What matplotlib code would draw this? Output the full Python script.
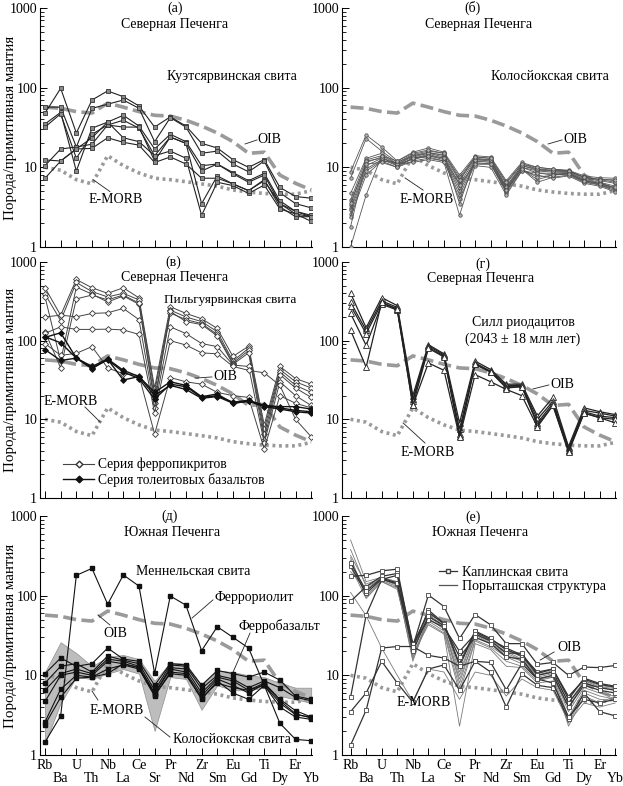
import matplotlib
matplotlib.use("Agg")
import matplotlib.pyplot as plt
from matplotlib.lines import Line2D
from matplotlib.ticker import LogLocator, NullFormatter, FixedLocator

plt.rcParams['font.family'] = ['Liberation Serif', 'DejaVu Serif']

ELEMENTS = ['Rb', 'Ba', 'U', 'Th', 'Nb', 'La', 'Ce', 'Sr', 'Pr', 'Nd',
            'Zr', 'Sm', 'Eu', 'Gd', 'Ti', 'Dy', 'Er', 'Yb']

OIB = [57, 55, 50, 48, 64, 57, 50, 45, 44, 39, 33, 27, 21, 15, 15.5, 8.0, 6.3, 5.2]
EMORB = [10, 9.2, 7.0, 6.2, 14, 10.5, 8.5, 7.3, 7.0, 6.6, 6.2, 5.8, 5.2, 4.9, 4.7, 4.6, 4.6, 5.1]

# (а) Куэтсярвинская свита
kuets = [
    [48, 98, 27, 70, 91, 77, 59, 32, 43, 33, 20, 17.5, 12.5, 10, 12.5, 5.6, 4.3, 4.1],
    [57, 57, 18, 55, 62, 70, 55, 21, 42, 32, 15, 16, 11, 8.8, 12, 4.8, 3.5, 3.1],
    [35, 49, 9, 31, 37, 45, 33, 17, 26, 21, 10.5, 11, 8.6, 6.8, 8.4, 3.8, 2.8, 2.5],
    [32, 47, 13, 26, 34, 39, 31, 14, 24, 20, 9, 11, 8.3, 6.5, 8, 3.5, 2.6, 2.4],
    [10.5, 17, 18, 19.5, 34, 32, 32, 12, 24, 20, 3.5, 7.8, 6.2, 5.1, 7, 3.2, 2.4, 2.4],
    [12.4, 12, 17, 23.5, 37, 23.5, 21, 14, 16, 13, 2.5, 6.5, 5.9, 4.7, 6, 3.0, 2.6, 2.1],
    [7.3, 12, 17, 17.3, 23.5, 20.6, 19, 11.5, 13.5, 11, 7.3, 7.3, 6.2, 5.1, 6.8, 3.5, 2.8, 2.4],
]

# (б) Колосйокская свита
kolos = [
    [8.8, 25.5, 18, 12, 15.5, 17.5, 15.5, 8, 14, 13.5, 6.8, 11.5, 10, 9.5, 9.2, 7.8, 7.4, 7.3],
    [7.3, 23, 16, 11.5, 14.5, 16, 15, 7.5, 13.5, 13, 6.2, 11, 9.6, 9.2, 9, 7.5, 7.1, 6.8],
    [4.7, 13, 15, 11, 14, 15.5, 14, 6.8, 13, 12.5, 5.8, 10.5, 9.2, 9, 8.8, 7.2, 6.8, 6.3],
    [3.9, 12.4, 14, 11, 13.5, 15, 13.5, 6.2, 12.5, 12, 5.5, 10, 9, 8.7, 8.6, 7, 6.5, 5.8],
    [3.4, 11.5, 13.5, 10.5, 13, 14.5, 13, 5.5, 12, 12, 5.3, 10, 8.5, 8.4, 8.4, 6.8, 6.3, 5.5],
    [3.1, 10.5, 13, 11, 12.5, 14, 12.5, 5, 12, 11.5, 5.1, 9.5, 7, 8, 8.2, 6.6, 6.1, 5.3],
    [2.9, 9.5, 12.5, 10.5, 13, 13.5, 12, 4.5, 11.5, 11, 5, 9.5, 6.5, 7.5, 8, 6.5, 6, 5.1],
    [2.6, 9, 12, 10, 12, 13, 12, 4, 11, 11, 4.8, 9, 8, 7.3, 7.8, 6.3, 5.8, 4.9],
    [2.4, 8, 12, 11.5, 14, 15, 14.5, 3.5, 12.5, 12.5, 5.6, 10.5, 9.5, 9, 9, 7.5, 7, 6.5],
    [1.8, 12, 13, 11, 11.5, 12.5, 11.5, 2.5, 10.5, 10, 4.5, 9, 8.5, 8, 8.5, 6.8, 6.3, 5.5],
    [1.0, 4.5, 14, 12, 15, 16.5, 15, 7, 13.5, 13, 6.5, 11, 10, 9.5, 9, 7.5, 7, 7],
    [3.6, 11, 11.5, 10, 13, 14, 13, 6, 11, 11, 5.2, 9.5, 7.5, 8, 8.3, 6.8, 6.2, 5.6],
]

# (в) Пильгуярвинская свита
ferropicrite = [
    [470, 210, 600, 470, 400, 470, 350, 25, 270, 222, 190, 143, 63, 85, 8.5, 47, 33, 28],
    [390, 180, 550, 420, 360, 400, 330, 22, 245, 200, 175, 130, 55, 80, 7.5, 43, 30, 25],
    [360, 55, 480, 390, 310, 370, 290, 18, 225, 185, 165, 120, 52, 75, 6.5, 40, 27, 22],
    [130, 45, 340, 380, 330, 380, 300, 16, 235, 175, 160, 115, 50, 70, 5.5, 37, 25, 19],
    [200, 211, 201, 222, 226, 257, 185, 14, 150, 123, 92, 84, 49, 47, 5.0, 30, 20, 15],
    [124, 150, 139, 139, 140, 137, 120, 12, 100, 88, 70, 68, 47, 42, 39, 27, 10, 6],
    [92, 65, 69, 84, 45, 38, 36, 6.5, 34, 30, 28, 22, 20, 19, 4.2, 20, 16, 14],
]
tholeiite = [
    [110, 126, 60, 47, 58.5, 42, 35, 22, 30, 27, 19.4, 21, 16, 17, 15, 14.5, 14.5, 13.5],
    [112, 94, 60, 45, 57, 40, 33, 18, 28, 26, 19, 20, 16.5, 17.5, 15, 14, 13, 12.5],
    [77, 56, 60, 44, 58, 31.6, 35, 20, 27, 24, 18.5, 19.5, 16, 17, 14.5, 13.5, 12.5, 12],
]

# (г) Силл риодацитов
rhyodacite = [
    [401, 146, 353, 279, 20, 89, 68, 9, 55, 43, 28, 28, 11, 19, 4.5, 14, 12.5, 11.5],
    [308, 135, 320, 265, 18, 86, 66, 7.5, 52, 41, 27, 27, 10, 17, 4.3, 13, 12, 11],
    [279, 123, 300, 255, 17, 82, 64, 6.5, 50, 40, 26, 26, 9, 16, 4.1, 12.5, 11, 10.5],
    [222, 87, 290, 245, 15, 80, 62, 6.2, 50, 40, 25, 26, 8.5, 15, 4.0, 12, 10.5, 10],
    [136, 46, 310, 250, 15, 52, 42, 5.9, 37, 30, 24, 20, 8, 15, 3.8, 12, 10.5, 9],
]

# (д) Меннельская свита
ferrobasalt = [
    [10.5, 16.5, 13, 14, 22, 16, 15, 7.5, 14, 13.5, 7.5, 11.5, 10.5, 9.5, 11, 8.7, 5.5, 5.0],
    [8, 13, 14, 11, 17.5, 15.5, 14, 6.5, 13.5, 13, 6.8, 10, 9, 7, 8.5, 7, 5.3, 4.8],
    [6.5, 10.5, 12, 10.5, 16, 15, 13, 6, 12.5, 12, 6, 9.5, 8.5, 6.5, 8, 5, 3.6, 3.0],
    [4.7, 10, 11, 10, 15, 14, 12.5, 5.8, 12, 11, 5.5, 9, 7.5, 6, 7.8, 4.8, 3.3, 2.9],
    [2.6, 6.7, 10, 9.5, 12, 13.5, 12, 5.5, 11, 10.5, 5, 8.5, 6, 5, 7.5, 4, 3, 2.8],
    [2.4, 5.3, 9.2, 9.5, 10.5, 14, 12.5, 5.6, 10.5, 10, 5.2, 8, 7, 6.5, 7.5, 4.5, 3.2, 3.0],
]
ferrorhyolite = [1.45, 3.1, 180, 220, 78, 182, 132, 10.6, 99, 76, 20.4, 40.8, 30, 22, 7.5, 2.5, 1.57, 1.51]
kolos_low = [1.4, 4.5, 9.5, 9, 10.5, 12, 10.5, 2.0, 9.5, 9, 3.7, 7.5, 6.5, 6.5, 7, 5.5, 5, 4.5]
kolos_high = [11, 26, 19, 13, 17, 18, 16, 8.5, 14.5, 14, 7.5, 11.5, 11, 10, 9.5, 8, 7, 7]

# (е) Каплинская свита / Порыташская структура
kaplin = [
    [237, 107, 161, 140, 22, 66, 45, 13, 35, 28, 22, 18, 11, 12, 5.4, 8.9, 7.7, 7.1],
    [260, 115, 165, 145, 24, 62, 44, 14, 36, 29, 21, 17.5, 10.5, 12, 5.0, 9.2, 7.9, 7.3],
    [175, 180, 205, 215, 23, 102, 73, 29, 58, 43, 25, 25, 13.7, 14.5, 10, 12.7, 12.5, 13.3],
    [85, 130, 175, 190, 25, 50, 40, 20, 33, 27, 19, 19, 10, 11, 4.5, 8, 7, 6.5],
    [5.3, 57, 160, 180, 20, 55, 42, 17, 30, 25, 17, 16, 9, 10, 4, 7.5, 6.5, 6],
    [3.5, 6, 15, 8, 4.6, 12, 13.5, 6.5, 15, 11, 4, 10.5, 7.5, 7, 2.8, 6, 3.5, 3.1],
    [1.33, 3.65, 22, 23, 23, 17.8, 16.5, 13, 15, 14.5, 6.6, 14, 9, 8, 3, 5, 4.5, 5],
]
porytash = [
    [500, 150, 170, 150, 16, 55, 40, 10, 33, 26, 20, 16, 10, 11, 4.5, 8.5, 7.2, 6.8],
    [380, 130, 160, 135, 15, 52, 38, 9, 30, 25, 19, 15.5, 9.5, 10.5, 4.0, 8, 7, 6.5],
    [300, 100, 155, 130, 18, 48, 36, 7, 28, 23, 17, 14, 9, 10, 3.5, 7, 6, 5.5],
    [280, 95, 150, 125, 17, 45, 34, 6, 27, 22, 15, 13, 8.5, 9.5, 3.0, 6.5, 5.5, 5],
    [230, 92, 150, 120, 19, 43, 33, 2.3, 25, 21, 13, 12.5, 8, 8.5, 2.5, 6, 5, 4.8],
    [200, 120, 170, 145, 20, 58, 42, 8, 32, 25, 18, 15, 9, 9.5, 2.3, 5.5, 4.5, 5.5],
    [110, 56, 22, 10, 4.7, 12, 11, 5, 11, 10, 5.5, 9, 7, 6.5, 2.6, 4.5, 4, 4.5],
    [320, 140, 165, 140, 21, 60, 45, 11, 34, 27, 21, 17, 10, 11.5, 5.5, 8.6, 7.5, 7],
]

X = list(range(len(ELEMENTS)))
FS = 10
GREY = '#9a9a9a'

W, H = 623, 786
fig = plt.figure(figsize=(W / 100, H / 100), dpi=100)


def make_ax(left_px, right_px, top_px, bot_px, xlo):
    ax = fig.add_axes([left_px / W, 1 - bot_px / H, (right_px - left_px) / W, (bot_px - top_px) / H])
    ax.set_yscale('log')
    ax.set_ylim(1, 1000)
    ax.set_xlim(xlo, 17.05)
    for s in ('top', 'right'):
        ax.spines[s].set_visible(False)
    ax.spines['left'].set_linewidth(0.8)
    ax.spines['bottom'].set_linewidth(0.8)
    ax.xaxis.set_major_locator(FixedLocator(X))
    ax.yaxis.set_major_locator(LogLocator(base=10, numticks=10))
    ax.yaxis.set_minor_locator(LogLocator(base=10, subs=range(2, 10), numticks=10))
    ax.yaxis.set_minor_formatter(NullFormatter())
    ax.tick_params(axis='both', which='major', direction='in', length=5, width=0.7, labelsize=FS)
    ax.tick_params(axis='y', which='minor', direction='in', length=3, width=0.6)
    ax.set_yticks([1, 10, 100, 1000])
    ax.set_yticklabels(['1', '10', '100', '1000'])
    ax.tick_params(axis='y', pad=2)
    ax.set_xticklabels([])
    return ax


def refs(ax):
    ax.plot(X, OIB, color=GREY, lw=2.6, dashes=(3.6, 1.5), zorder=1)
    ax.plot(X, EMORB, color=GREY, lw=2.6, dashes=(0.8, 1.0), zorder=1)


def lead(ax, text, tx, ty, p0, p1, ha='left', va='center', fs=FS):
    ax.text(tx, ty, text, transform=ax.transAxes, ha=ha, va=va, fontsize=fs)
    if p0 is not None:
        ax.plot([p0[0], p1[0]], [p0[1], p1[1]], transform=ax.transAxes, color='#222', lw=0.6, clip_on=False)


LX0, LX1, RX0, RX1 = 40, 312, 342, 616
rows = [(8, 247), (262, 498), (516, 755)]

axA = make_ax(LX0, LX1, *rows[0], -0.32)
axB = make_ax(RX0, RX1, *rows[0], -0.55)
axC = make_ax(LX0, LX1, *rows[1], -0.32)
axD = make_ax(RX0, RX1, *rows[1], -0.55)
axE = make_ax(LX0, LX1, *rows[2], -0.32)
axF = make_ax(RX0, RX1, *rows[2], -0.55)

for ax in (axA, axB, axC, axD, axE, axF):
    refs(ax)

for ax in (axA, axC, axE):
    ax.text(-0.107, 0.5, 'Порода/примитивная мантия', transform=ax.transAxes,
            rotation=90, ha='center', va='center', fontsize=10.8)

for ax in (axE, axF):
    ax.set_xticklabels([e if i % 2 == 0 else '\n' + e for i, e in enumerate(ELEMENTS)],
                       fontsize=FS, linespacing=1.0)
    ax.tick_params(axis='x', pad=3)

# (а)
for v in kuets:
    axA.plot(X, v, color='#222', lw=0.8, marker='s', ms=3.1, mfc='#8a8a8a', mec='#333', mew=0.6, zorder=3)
lead(axA, '(а)', 0.496, 1.0, None, None, ha='center')
lead(axA, 'Северная Печенга', 0.496, 0.929, None, None, ha='center')
lead(axA, 'Куэтсярвинская свита', 0.706, 0.715, None, None, ha='center')
lead(axA, 'OIB', 0.801, 0.448, (0.798, 0.448), (0.754, 0.431))
lead(axA, 'E-MORB', 0.279, 0.197, (0.257, 0.232), (0.195, 0.282), ha='center')

# (б)
for v in kolos:
    axB.plot(X, v, color='#555', lw=0.6, marker='o', ms=2.5, mfc='#b0b0b0', mec='#444', mew=0.5, zorder=3)
lead(axB, '(б)', 0.478, 1.0, None, None, ha='center')
lead(axB, 'Северная Печенга', 0.5, 0.929, None, None, ha='center')
lead(axB, 'Колосйокская свита', 0.759, 0.715, None, None, ha='center')
lead(axB, 'OIB', 0.807, 0.448, (0.803, 0.448), (0.752, 0.431))
lead(axB, 'E-MORB', 0.31, 0.197, (0.296, 0.238), (0.23, 0.289), ha='center')

# (в)
for v in ferropicrite:
    axC.plot(X, v, color='#444', lw=0.7, marker='D', ms=3.0, mfc='white', mec='#333', mew=0.6, zorder=3)
for v in tholeiite:
    axC.plot(X, v, color='#111', lw=1.0, marker='D', ms=3.0, mfc='#111', mec='#111', mew=0.6, zorder=4)
lead(axC, '(в)', 0.489, 1.0, None, None, ha='center')
lead(axC, 'Северная Печенга', 0.496, 0.936, None, None, ha='center')
lead(axC, 'Пильгуярвинская свита', 0.699, 0.839, None, None, ha='center', fs=9.5)
lead(axC, 'OIB', 0.636, 0.513, (0.632, 0.513), (0.57, 0.508))
lead(axC, 'E-MORB', 0.114, 0.411, (0.165, 0.386), (0.221, 0.322), ha='center')
hC = [Line2D([], [], color='#444', lw=0.8, marker='D', ms=3.4, mfc='white', mec='#333'),
      Line2D([], [], color='#111', lw=1.0, marker='D', ms=3.4, mfc='#111', mec='#111')]
axC.legend(hC, ['Серия ферропикритов', 'Серия толеитовых базальтов'], loc='lower left',
           bbox_to_anchor=(0.065, 0.025), frameon=False, fontsize=9.8, handlelength=2.3,
           handletextpad=0.25, labelspacing=0.1, borderaxespad=0)

# (г)
for v in rhyodacite:
    axD.plot(X, v, color='#222', lw=0.9, marker='^', ms=4.2, mfc='white', mec='#222', mew=0.6, zorder=3)
lead(axD, '(г)', 0.515, 0.99, None, None, ha='center')
lead(axD, 'Северная Печенга', 0.504, 0.932, None, None, ha='center')
lead(axD, 'Силл риодацитов', 0.661, 0.742, None, None, ha='center')
lead(axD, '(2043 ± 18 млн лет)', 0.661, 0.674, None, None, ha='center')
lead(axD, 'OIB', 0.759, 0.479, (0.755, 0.479), (0.697, 0.462))
lead(axD, 'E-MORB', 0.314, 0.191, (0.303, 0.233), (0.223, 0.318), ha='center')

# (д)
axE.fill_between(X, kolos_low, kolos_high, color='#bdbdbd', edgecolor='#8f8f8f', lw=0.5, zorder=0.5)
for v in ferrobasalt:
    axE.plot(X, v, color='#111', lw=0.8, marker='s', ms=3.1, mfc='#111', mec='#111', zorder=3)
axE.plot(X, ferrorhyolite, color='#111', lw=0.8, marker='s', ms=3.1, mfc='#111', mec='#111', zorder=3)
lead(axE, '(д)', 0.478, 1.0, None, None, ha='center')
lead(axE, 'Южная Печенга', 0.485, 0.929, None, None, ha='center')
lead(axE, 'Меннельская свита', 0.563, 0.766, None, None, ha='center')
lead(axE, 'Феррориолит', 0.64, 0.661, (0.636, 0.649), (0.559, 0.573))
lead(axE, 'Ферробазальт', 0.728, 0.54, (0.772, 0.51), (0.71, 0.347))
lead(axE, 'OIB', 0.276, 0.51, (0.257, 0.544), (0.213, 0.586), ha='center')
lead(axE, 'E-MORB', 0.283, 0.188, (0.213, 0.23), (0.191, 0.268), ha='center')
lead(axE, 'Колосйокская свита', 0.489, 0.063, (0.478, 0.075), (0.386, 0.159))

# (е)
for v in porytash:
    axF.plot(X, v, color='#7a7a7a', lw=0.6, zorder=2)
for v in kaplin:
    axF.plot(X, v, color='#333', lw=0.9, marker='s', ms=3.2, mfc='white', mec='#444', mew=0.6, zorder=3)
lead(axF, '(е)', 0.478, 0.996, None, None, ha='center')
lead(axF, 'Южная Печенга', 0.504, 0.929, None, None, ha='center')
lead(axF, 'OIB', 0.785, 0.448, (0.774, 0.431), (0.723, 0.397))
lead(axF, 'E-MORB', 0.297, 0.218, None, None, ha='center')
hF = [Line2D([], [], color='#333', lw=0.9, marker='s', ms=3.4, mfc='white', mec='#444'),
      Line2D([], [], color='#555', lw=0.9)]
axF.legend(hF, ['Каплинская свита', 'Порыташская структура'], loc='upper left',
           bbox_to_anchor=(0.335, 0.815), frameon=False, fontsize=10, handlelength=1.3,
           handletextpad=0.35, labelspacing=0.1, borderaxespad=0)

fig.savefig('out.png', dpi=100)
